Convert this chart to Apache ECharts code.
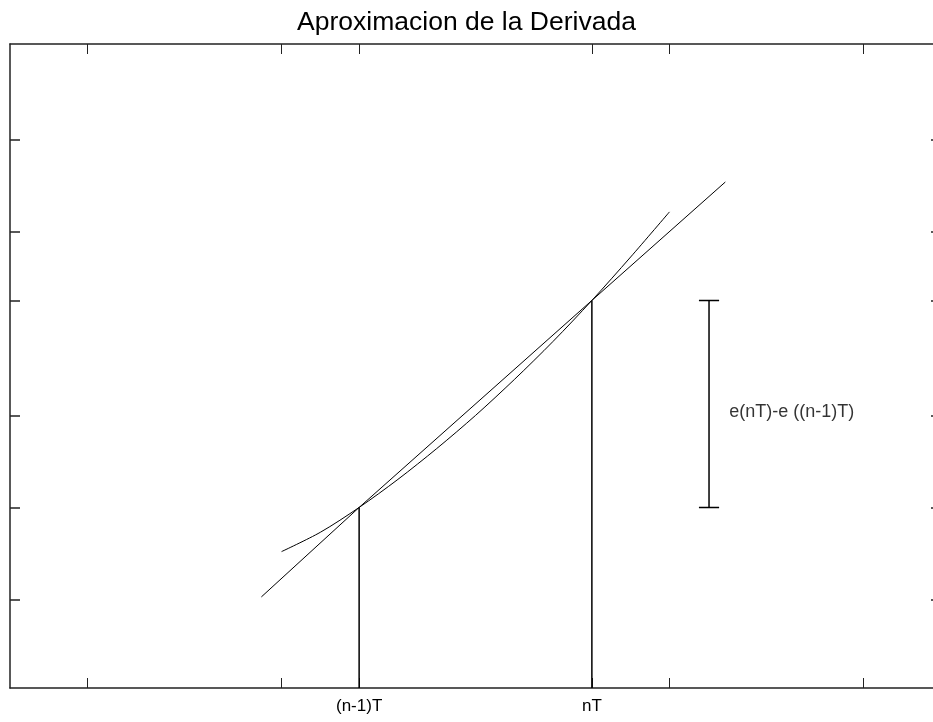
<!DOCTYPE html>
<html>
<head>
<meta charset="utf-8">
<script src="https://cdn.jsdelivr.net/npm/echarts@6/dist/echarts.min.js"></script>
<style>
  html, body { margin: 0; padding: 0; background: #fff; }
  #chart { width: 933px; height: 722px; }
</style>
</head>
<body>
<div id="chart"></div>
<script>
// tick positions (data units)
const xTicks = [1, 3.5, 4.5, 7.5, 8.5, 11]
const yTicks = [3, 7, 11, 16, 19, 23]
const xLabelValues = [4.5, 7.5]
const xLabelNames = ['(n-1)T', 'nT']

// secant line
const secantX = [3.24, 4.5, 7.5, 9.22]
const secantY = [3.11, 7, 16, 21.15]

// curve e(t)
const curveX = [3.5, 4.0, 4.5, 5.0, 5.5, 6.0, 6.5, 7.0, 7.5, 8.0, 8.5]
const curveY = [5.08, 5.92, 7, 8.22, 9.56, 11.0, 12.56, 14.22, 16, 17.89, 19.85]

// sample points (n-1)T and nT
const sampleX = [4.5, 7.5]
const sampleY = [7, 16]

// difference marker
const diffX = 9.01
const diffLow = 7
const diffHigh = 16
const diffText = 'e(nT)-e ((n-1)T)'

const xMin = 0, xMax = 12
const yMin = -0.85, yMax = 27.15

const black = '#000'
const font = '"Liberation Sans", Arial, sans-serif'

function pairs (xs, ys) {
  return xs.map((x, i) => [x, ys[i]])
}

const axisLine = { show: true, onZero: false, lineStyle: { color: '#222', width: 1.5 } }

function xAxisOf (pos, withLabels) {
  return {
    type: 'value', position: pos, min: xMin, max: xMax,
    axisLine: axisLine,
    axisTick: { show: true, inside: true, length: 10, customValues: xTicks, lineStyle: { color: '#222', width: 1 } },
    axisLabel: withLabels ? {
      show: true, customValues: xLabelValues, margin: 10, color: black,
      fontFamily: font, fontSize: 17,
      formatter: v => xLabelNames[xLabelValues.indexOf(v)]
    } : { show: false },
    splitLine: { show: false }
  }
}

function yAxisOf (pos) {
  return {
    type: 'value', position: pos, min: yMin, max: yMax,
    axisLine: axisLine,
    axisTick: { show: true, inside: true, length: 10, customValues: yTicks, lineStyle: { color: '#222', width: 1.5 } },
    axisLabel: { show: false },
    splitLine: { show: false }
  }
}

function seg (data, width) {
  return {
    type: 'line', data: data, symbol: 'none', silent: true,
    lineStyle: { color: black, width: width || 1 }
  }
}

const series = [
  seg(pairs(secantX, secantY), 1),
  Object.assign(seg(pairs(curveX, curveY), 1), { smooth: 0.3 })
]
sampleX.forEach((x, i) => {
  series.push(seg([[x, yMin], [x, sampleY[i]]], 1.5))
})
series.push(seg([[diffX, diffLow], [diffX, diffHigh]], 1.5))
series.push(seg([[diffX - 0.13, diffHigh], [diffX + 0.13, diffHigh]], 1.5))
series.push(seg([[diffX - 0.13, diffLow], [diffX + 0.13, diffLow]], 1.5))
series.push({
  type: 'scatter', symbolSize: 0, silent: true,
  data: [[9.27, (diffLow + diffHigh) / 2 - 0.35]],
  label: {
    show: true, position: 'right', distance: 0, formatter: diffText,
    color: black, fontFamily: font, fontSize: 18
  }
})

const dom = echarts.init(document.getElementById('chart'))
dom.setOption({
  backgroundColor: '#fff',
  animation: false,
  title: {
    text: 'Aproximacion de la Derivada',
    left: 'center',
    top: 4,
    textStyle: { color: black, fontFamily: font, fontSize: 26.5, fontWeight: 'normal' }
  },
  grid: { left: 10, top: 44, width: 931, height: 644, outerBoundsMode: 'none' },
  xAxis: [xAxisOf('bottom', true), xAxisOf('top', false)],
  yAxis: [yAxisOf('left'), yAxisOf('right')],
  series: series
})
</script>
</body>
</html>
